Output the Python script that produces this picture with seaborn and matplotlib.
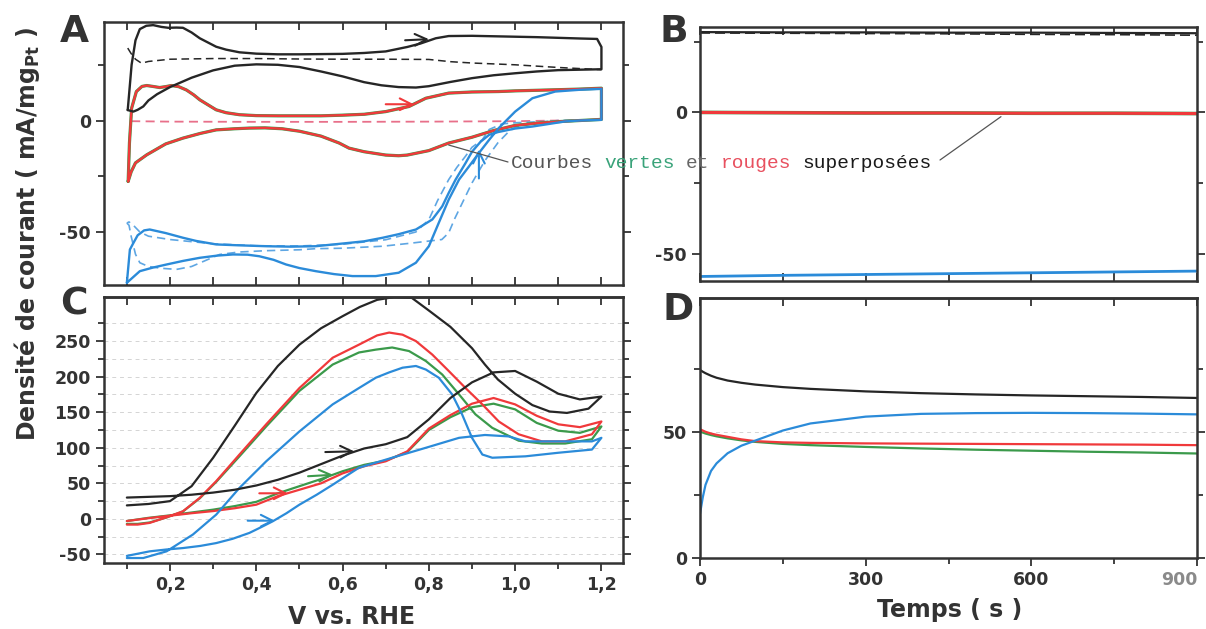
import matplotlib
matplotlib.use("Agg")
import matplotlib.pyplot as plt
import seaborn as sns
from matplotlib.patches import ConnectionPatch

# -------------------------------
# Data
# -------------------------------
# Panel A : CV under N2 (V vs RHE, mA/mg)
A_BLACK_FWD_V = [0.102, 0.111, 0.12, 0.13, 0.145, 0.161, 0.18, 0.196, 0.215, 0.23, 0.25, 0.269, 0.29, 0.307, 0.33,
                 0.361, 0.4, 0.45, 0.5, 0.55, 0.6, 0.65, 0.7, 0.75, 0.78, 0.816, 0.846, 0.9, 0.95, 1.0, 1.05, 1.1,
                 1.15, 1.19, 1.2]
A_BLACK_FWD_I = [4.7, 25, 36, 41, 42.5, 42.8, 42, 41.6, 41.7, 41.6, 39.5, 36.9, 34.8, 33.1, 31.8, 30.6, 30, 29.7,
                 29.7, 29.8, 29.9, 30.3, 31, 33, 34.5, 36.9, 37.9, 38, 37.8, 37.6, 37.4, 37.1, 36.8, 36.6, 33]
A_BLACK_REV_V = [1.2, 1.2, 1.15, 1.1, 1.05, 1.0, 0.95, 0.9, 0.85, 0.8, 0.77, 0.73, 0.69, 0.65, 0.6, 0.55, 0.5, 0.45,
                 0.4, 0.35, 0.3, 0.25, 0.2, 0.17, 0.15, 0.138, 0.125, 0.115, 0.102]
A_BLACK_REV_I = [33, 23, 22.8, 22.6, 22.0, 21.2, 20.3, 19.0, 17.3, 15.4, 14.8, 15.0, 15.8, 17.2, 19.8, 22.0, 24.0,
                 25.0, 25.2, 24.6, 22.5, 19.2, 15.0, 11.8, 9.0, 6.3, 4.8, 4.0, 4.7]
A_BLACK_DASH_V = [0.102, 0.11, 0.12, 0.134, 0.15, 0.2, 0.3, 0.4, 0.5, 0.6, 0.7, 0.8, 0.85, 0.9, 0.95, 1.0, 1.05,
                  1.1, 1.15, 1.2]
A_BLACK_DASH_I = [32.5, 30, 27.5, 25.7, 26.5, 27.5, 27.8, 27.8, 27.6, 27.5, 27.5, 27.4, 26.4, 25.8, 25.4, 25.0,
                  24.4, 23.8, 23.3, 22.8]

A_RED_FWD_V = [0.103, 0.106, 0.111, 0.122, 0.135, 0.146, 0.16, 0.176, 0.19, 0.203, 0.22, 0.238, 0.255, 0.269, 0.29,
               0.307, 0.33, 0.361, 0.4, 0.45, 0.5, 0.55, 0.6, 0.65, 0.7, 0.754, 0.793, 0.846, 0.9, 0.962, 1.0,
               1.077, 1.15, 1.2]
A_RED_FWD_I = [-27.3, -10, 5.5, 13, 15.3, 15.7, 15.3, 14.8, 15.2, 15.7, 15.2, 13.7, 11.5, 9.3, 6.8, 4.8, 3.5, 2.6,
               2.2, 2.1, 2.1, 2.1, 2.4, 2.8, 4.0, 6.3, 10, 12.3, 12.8, 13, 13.3, 13.7, 14.1, 14.5]
A_RED_REV_V = [1.2, 1.2, 1.15, 1.1, 1.05, 1.0, 0.95, 0.9, 0.846, 0.8, 0.75, 0.73, 0.7, 0.65, 0.615, 0.592, 0.55, 0.5,
               0.46, 0.42, 0.384, 0.35, 0.307, 0.27, 0.23, 0.19, 0.146, 0.12, 0.11, 0.103]
A_RED_REV_I = [14.5, 0.5, 0, -0.5, -1.2, -2.2, -4.5, -7.5, -10.1, -13.5, -15.5, -15.8, -15.5, -14.0, -12.4, -10.1,
               -7.0, -4.8, -3.7, -3.3, -3.4, -3.7, -4.2, -5.8, -7.9, -10.5, -15.4, -19, -23, -27.3]
A_RED_DASH_V = [0.11, 0.2, 0.4, 0.6, 0.8, 1.0, 1.1, 1.2]
A_RED_DASH_I = [-0.3, -0.5, -0.6, -0.6, -0.5, -0.3, 0, 0.3]

A_BLUE_FWD_V = [0.1, 0.13, 0.16, 0.192, 0.23, 0.269, 0.31, 0.346, 0.38, 0.407, 0.44, 0.469, 0.5, 0.538, 0.58, 0.623,
                0.677, 0.73, 0.77, 0.8, 0.823, 0.846, 0.87, 0.893, 0.916, 0.94, 0.962, 1.0, 1.04, 1.093, 1.15, 1.2]
A_BLUE_FWD_I = [-72.8, -67.6, -66, -64.6, -63, -61.6, -60.6, -60.1, -60.2, -60.9, -62.5, -64.6, -66.2, -67.6, -68.9,
                -69.8, -69.8, -68.3, -63.8, -56.4, -45.9, -35.5, -26.5, -20.6, -14.6, -8.6, -3.4, 4, 10, 13, 13.8,
                14.2]
A_BLUE_REV_V = [1.2, 1.2, 1.15, 1.116, 1.08, 1.04, 1.0, 0.985, 0.96, 0.94, 0.92, 0.9, 0.885, 0.862, 0.846, 0.831,
                0.808, 0.77, 0.73, 0.693, 0.65, 0.615, 0.538, 0.48, 0.423, 0.36, 0.307, 0.26, 0.23, 0.19, 0.153,
                0.14, 0.125, 0.115, 0.107, 0.1]
A_BLUE_REV_I = [14.2, 0.3, 0, -0.4, -1.5, -2.7, -3.6, -4.2, -5.2, -6.4, -9.5, -14, -19.1, -26.5, -32.5, -38.5,
                -44.4, -48.9, -51, -52.6, -54.2, -54.9, -56.4, -56.6, -56.4, -56, -55.6, -54, -52.6, -50.5, -48.9,
                -49.3, -51.5, -55, -57.9, -72.8]
A_BLUE_DASH1_V = [0.1, 0.105, 0.11, 0.12, 0.13, 0.15, 0.18, 0.215, 0.25, 0.28, 0.315, 0.36, 0.423, 0.5, 0.538, 0.6,
                  0.693, 0.76, 0.83, 0.846, 0.86, 0.88, 0.9, 0.93, 0.96, 0.985, 1.0, 1.05, 1.1, 1.15, 1.2]
A_BLUE_DASH1_I = [-46, -47, -52, -60, -63.8, -65.5, -66.3, -66.8, -65.5, -63, -60.1, -59, -58.4, -58, -57.5, -57.3,
                  -56.4, -55, -53.4, -50.4, -44, -36, -28, -18, -10, -5, -3, -1, 0, 0.2, 0.3]
A_BLUE_DASH2_V = [1.2, 1.1, 1.0, 0.97, 0.94, 0.924, 0.9, 0.885, 0.865, 0.846, 0.82, 0.8, 0.77, 0.7, 0.6, 0.5, 0.4,
                  0.3, 0.2, 0.15, 0.13, 0.115, 0.105, 0.1]
A_BLUE_DASH2_I = [0.3, -0.2, -1, -1.5, -4, -8.6, -12, -16, -21, -26.5, -36, -44.5, -50, -53.5, -55.5, -56.3, -56.2,
                  -55.3, -53.4, -51.9, -50, -47, -45.5, -46]

# Panel B : chronoamperometry (s, mA/mg)
B_T = [0, 150, 300, 450, 600, 750, 900]
B_BLACK = [28.4, 28.3, 28.3, 28.2, 28.2, 28.1, 28.0]
B_BLACK_DASH = [28.1, 28.0, 27.9, 27.8, 27.6, 27.5, 27.3]
B_GREEN = [0.0, -0.1, -0.2, -0.2, -0.3, -0.3, -0.4]
B_RED = [0.0, -0.1, -0.2, -0.2, -0.3, -0.3, -0.4]
B_BLUE = [-58.0, -57.6, -57.3, -57.0, -56.7, -56.4, -56.1]

# Panel C : methanol oxidation CV
C_V = [0.1, 0.15, 0.2, 0.25, 0.3, 0.35, 0.4, 0.45, 0.5, 0.55, 0.6, 0.65, 0.7, 0.75, 0.8, 0.85, 0.9, 0.95, 1.0, 1.05,
       1.1, 1.15, 1.2]
C_BLACK_FWD = [30, 31, 32, 34, 37, 41, 47, 55, 65, 77, 89, 99, 105, 115, 140, 170, 192, 206, 208, 193, 176, 168, 172]
C_RED_FWD = [-3, 1, 4.5, 8, 11, 15, 20, 32, 41, 50, 64, 74, 81, 95, 127, 146, 162, 170, 161, 145, 133, 129, 137]
C_GREEN_FWD = [-3, 1.5, 5, 9, 13, 18, 24, 36, 46, 56, 67, 76, 82, 94, 125, 143, 157, 162, 154, 135, 124, 121, 130]

C_BLACK_REV_V = [1.2, 1.17, 1.12, 1.08, 1.04, 1.0, 0.96, 0.93, 0.9, 0.85, 0.8, 0.76, 0.72, 0.68, 0.64, 0.6, 0.55,
                 0.5, 0.45, 0.4, 0.35, 0.3, 0.25, 0.2, 0.15, 0.1]
C_BLACK_REV = [172, 155, 149, 151, 160, 176, 196, 217, 240, 270, 293, 311, 312, 308, 298, 285, 268, 245, 215, 177,
               131, 86, 46, 25, 21, 19]
C_RED_REV_V = [1.2, 1.178, 1.116, 1.062, 1.008, 0.962, 0.924, 0.885, 0.846, 0.808, 0.77, 0.739, 0.708, 0.68, 0.638,
               0.577, 0.5, 0.423, 0.361, 0.307, 0.269, 0.23, 0.192, 0.153, 0.125, 0.1]
C_RED_REV = [137, 119, 109, 109, 119, 137, 161, 184, 208, 231, 250, 259, 262, 258, 245, 226.6, 184, 133, 90.5, 53,
             29.6, 10.7, 2.3, -5.6, -8, -8]
C_GREEN_REV_V = [1.2, 1.178, 1.116, 1.062, 1.008, 0.947, 0.908, 0.87, 0.831, 0.793, 0.754, 0.715, 0.677, 0.638,
                 0.577, 0.5, 0.423, 0.361, 0.307, 0.269, 0.23, 0.192, 0.153, 0.125, 0.1]
C_GREEN_REV = [130, 112, 106, 106, 110, 128, 147, 175, 203, 222, 236, 241, 238, 234, 217, 180, 130, 88, 52, 29,
               10.5, 2, -5, -7, -7]
C_BLUE_FWD_V = [0.1, 0.153, 0.192, 0.23, 0.27, 0.307, 0.345, 0.384, 0.41, 0.438, 0.47, 0.5, 0.54, 0.577, 0.638,
                0.715, 0.793, 0.87, 0.93, 0.985, 1.024, 1.1, 1.15, 1.178, 1.2]
C_BLUE_FWD = [-52, -45.6, -43, -41, -38, -34, -28, -19.7, -12, -3.4, 8, 20, 34, 48, 72, 86, 100, 114, 118, 116, 109,
              109, 109, 109, 114]
C_BLUE_REV_V = [1.2, 1.178, 1.1, 1.024, 0.947, 0.924, 0.9, 0.877, 0.854, 0.823, 0.793, 0.77, 0.739, 0.708, 0.677,
                0.638, 0.577, 0.5, 0.423, 0.361, 0.307, 0.253, 0.192, 0.138, 0.1]
C_BLUE_REV = [114, 97.5, 93, 88, 86, 90.5, 114, 147, 175, 198.5, 210, 215, 212.6, 206, 198.5, 184, 161, 123, 81,
              43.6, 6, -22, -45.6, -55, -55]

# Panel D : chronoamperometry in methanol
D_T = [0, 5, 10, 20, 30, 50, 75, 100, 150, 200, 300, 400, 500, 600, 700, 800, 900]
D_BLACK = [74.5, 73.8, 73.2, 72.2, 71.4, 70.3, 69.4, 68.7, 67.7, 67.0, 66.0, 65.3, 64.8, 64.4, 64.1, 63.8, 63.4]
D_BLUE = [17.5, 24, 29, 34.5, 37.5, 41.5, 44.5, 46.5, 50.5, 53.3, 56, 57.1, 57.4, 57.5, 57.4, 57.2, 56.9]
D_RED = [51, 50.5, 50, 49.3, 48.8, 48, 47, 46.3, 45.8, 45.6, 45.4, 45.3, 45.2, 45.1, 45, 44.9, 44.7]
D_GREEN = [50, 49.7, 49.3, 48.7, 48.2, 47.4, 46.6, 46, 45.2, 44.7, 44, 43.4, 42.9, 42.5, 42.1, 41.8, 41.4]

# scan direction arrows (tail, head)
A_ARROWS = {"black": ((0.745, 36.0), (0.80, 36.5)), "red": ((0.70, 7.3), (0.765, 7.3)),
            "blue": ((0.916, -26.0), (0.916, -13.0))}
C_ARROWS = {"black": ((0.56, 94), (0.627, 95)), "green": ((0.52, 60), (0.578, 62)),
            "red": ((0.407, 36), (0.473, 36)), "blue": ((0.38, -2.5), (0.443, -2.5))}

C_XTICK_LABELS = ["0,2", "0,4", "0,6", "0,8", "1,0", "1,2"]
D_XTICK_LABELS = ["0", "300", "600", "900"]
YLABEL = r"Densité de courant ( mA/mg$_{\mathbf{Pt}}$ )"
NOTE_WORDS = ["Courbes", "vertes", "et", "rouges", "superposées"]

# -------------------------------
# Style
# -------------------------------
sns.set_theme(style="white")
plt.rcParams["font.family"] = ["DejaVu Sans"]
plt.rcParams["font.weight"] = "bold"
plt.rcParams["axes.unicode_minus"] = False
plt.rcParams["mathtext.fontset"] = "custom"
plt.rcParams["mathtext.rm"] = "DejaVu Sans:bold"
plt.rcParams["mathtext.bf"] = "DejaVu Sans:bold"

BLACK = "#262626"
RED = "#f0393b"
GREEN = "#3b9a4b"
BLUE = "#2b8bd9"
BLUE_DASH = "#5ea6e3"
PINK_DASH = "#e8708a"
FRAME = "#333333"
COLORS = {"black": BLACK, "red": RED, "green": GREEN, "blue": BLUE}

W, H = 1206, 629
fig = plt.figure(figsize=(W / 100, H / 100), dpi=100)


def box(left, top, right, bottom):
    return fig.add_axes([left / W, 1 - bottom / H, (right - left) / W, (bottom - top) / H])


ax_a = box(104, 22, 623, 285)
ax_b = box(700, 27, 1197, 281)
ax_c = box(104, 297, 623, 563)
ax_d = box(700, 298, 1197, 558)


def trace(ax, x, y, color, ls="-", lw=1.6):
    sns.lineplot(x=x, y=y, ax=ax, sort=False, estimator=None, color=color, linestyle=ls, linewidth=lw)


def arrow(ax, tail, head, color):
    ax.annotate("", xy=head, xytext=tail,
                arrowprops=dict(arrowstyle="->,head_length=0.7,head_width=0.35", color=color, lw=1.5,
                                shrinkA=0, shrinkB=0))


def frame(ax):
    for s in ax.spines.values():
        s.set_linewidth(1.8)
        s.set_color(FRAME)
    ax.tick_params(which="both", color=FRAME, width=1.3, labelsize=12.5, labelcolor=FRAME)
    ax.tick_params(which="major", length=6)
    ax.tick_params(which="minor", length=4)
    ax.set_xlabel("")
    ax.set_ylabel("")


def top_ticks(ax, ticks):
    sec = ax.secondary_xaxis("top")
    sec.set_xticks(ticks)
    sec.tick_params(axis="x", direction="in", length=6, width=1.3, color=FRAME, labeltop=False)
    sec.spines["top"].set_linewidth(1.8)
    sec.spines["top"].set_color(FRAME)


# -------------------------------
# (A) CV in supporting electrolyte
# -------------------------------
trace(ax_a, A_BLACK_DASH_V, A_BLACK_DASH_I, BLACK, ls=(0, (5, 3)), lw=1.1)
trace(ax_a, A_RED_DASH_V, A_RED_DASH_I, PINK_DASH, ls=(0, (5, 3)), lw=1.3)
trace(ax_a, A_BLUE_DASH1_V, A_BLUE_DASH1_I, BLUE_DASH, ls=(0, (5, 3)), lw=1.2)
trace(ax_a, A_BLUE_DASH2_V, A_BLUE_DASH2_I, BLUE_DASH, ls=(0, (5, 3)), lw=1.2)
trace(ax_a, A_RED_FWD_V + A_RED_REV_V, A_RED_FWD_I + A_RED_REV_I, GREEN, lw=2.3)
trace(ax_a, A_RED_FWD_V + A_RED_REV_V, A_RED_FWD_I + A_RED_REV_I, RED, lw=1.7)
trace(ax_a, A_BLUE_FWD_V + A_BLUE_REV_V, A_BLUE_FWD_I + A_BLUE_REV_I, BLUE, lw=1.7)
trace(ax_a, A_BLACK_FWD_V + A_BLACK_REV_V, A_BLACK_FWD_I + A_BLACK_REV_I, BLACK, lw=1.7)
for name, (tail, head) in A_ARROWS.items():
    arrow(ax_a, tail, head, COLORS[name])

ax_a.set_xlim(0.047, 1.25)
ax_a.set_ylim(-73.8, 44.2)
ax_a.set_xticks([0.1 * k for k in range(1, 13)])
ax_a.set_yticks([-50, 0])
ax_a.set_yticks([-25, 25], minor=True)
frame(ax_a)
ax_a.tick_params(axis="x", direction="in", top=True, bottom=True, labelbottom=False)
ax_a.tick_params(axis="y", which="both", direction="out", left=True, right=True)

# -------------------------------
# (B) Chronoamperometry, supporting electrolyte
# -------------------------------
trace(ax_b, B_T, B_BLACK_DASH, BLACK, ls=(0, (6, 3)), lw=1.2)
trace(ax_b, B_T, B_BLACK, BLACK, lw=1.6)
trace(ax_b, B_T, B_GREEN, GREEN, lw=2.6)
trace(ax_b, B_T, B_RED, RED, lw=2.2)
trace(ax_b, B_T, B_BLUE, BLUE, lw=2.0)

ax_b.set_xlim(0, 900)
ax_b.set_ylim(-59.6, 30.2)
ax_b.set_xticks(range(0, 901, 150))
ax_b.set_yticks([-50, 0])
ax_b.set_yticks([-25, 25], minor=True)
frame(ax_b)
ax_b.tick_params(axis="x", direction="in", top=True, bottom=True, labelbottom=False)
ax_b.tick_params(axis="y", which="both", direction="out", left=True, right=True)

# -------------------------------
# (C) CV in methanol
# -------------------------------
ax_c.grid(axis="y", which="both", color="#d4d4d4", linestyle=(0, (4, 4)), linewidth=0.7)
trace(ax_c, C_V + C_GREEN_REV_V, C_GREEN_FWD + C_GREEN_REV, GREEN)
trace(ax_c, C_V + C_RED_REV_V, C_RED_FWD + C_RED_REV, RED)
trace(ax_c, C_BLUE_FWD_V + C_BLUE_REV_V, C_BLUE_FWD + C_BLUE_REV, BLUE)
trace(ax_c, C_V + C_BLACK_REV_V, C_BLACK_FWD + C_BLACK_REV, BLACK)
for name, (tail, head) in C_ARROWS.items():
    arrow(ax_c, tail, head, COLORS[name])

ax_c.set_xlim(0.047, 1.25)
ax_c.set_ylim(-62, 312)
ax_c.set_xticks([0.2, 0.4, 0.6, 0.8, 1.0, 1.2], C_XTICK_LABELS)
ax_c.set_xticks([0.1, 0.3, 0.5, 0.7, 0.9, 1.1], minor=True)
ax_c.set_yticks(range(-50, 251, 50))
ax_c.set_yticks(range(-25, 301, 50), minor=True)
frame(ax_c)
ax_c.tick_params(axis="x", which="both", direction="out", top=False, bottom=True)
ax_c.tick_params(axis="y", which="both", direction="out", left=True, right=True)
top_ticks(ax_c, [0.1 * k for k in range(1, 13)])

# -------------------------------
# (D) Chronoamperometry in methanol
# -------------------------------
ax_d.grid(axis="y", which="major", color="#d4d4d4", linestyle=(0, (4, 4)), linewidth=0.7)
trace(ax_d, D_T, D_GREEN, GREEN)
trace(ax_d, D_T, D_RED, RED)
trace(ax_d, D_T, D_BLUE, BLUE)
trace(ax_d, D_T, D_BLACK, BLACK)

ax_d.set_xlim(0, 900)
ax_d.set_ylim(0, 103)
ax_d.set_xticks([0, 300, 600, 900], D_XTICK_LABELS)
ax_d.set_xticks([150, 450, 750], minor=True)
ax_d.set_yticks([0, 50])
ax_d.set_yticks([25, 75], minor=True)
frame(ax_d)
ax_d.tick_params(axis="x", which="both", direction="out", top=False, bottom=True)
ax_d.tick_params(axis="y", which="both", direction="out", left=True, right=True)
last = ax_d.get_xticklabels()[-1]
last.set_color("#8a8a8a")
last.set_horizontalalignment("right")
top_ticks(ax_d, range(0, 901, 150))

# -------------------------------
# Labels and annotation
# -------------------------------
for letter, (px, py) in zip("ABCD", [(60, 14), (660, 14), (60, 286), (662, 292)]):
    fig.text(px / W, 1 - py / H, letter, fontsize=27, color=FRAME, ha="left", va="top")

fig.text(27 / W, 1 - 234 / H, YLABEL, rotation=90, fontsize=17, color=FRAME, ha="center", va="center")
fig.text(352 / W, 1 - 617 / H, "V vs. RHE", fontsize=17, color=FRAME, ha="center", va="center")
fig.text(950 / W, 1 - 610 / H, "Temps ( s )", fontsize=17, color=FRAME, ha="center", va="center")

note_colors = ["#555555", "#3aa37a", "#666666", "#e8505f", "#1a1a1a"]
char_px = 0.6 * 14 * 100 / 72
col = 0
for word, c in zip(NOTE_WORDS, note_colors):
    fig.text((511 + col * char_px) / W, 1 - 163 / H, word, family="Liberation Mono", fontsize=14,
             weight="normal", color=c, ha="left", va="center")
    col += len(word) + 1

fig.add_artist(ConnectionPatch(xyA=(0.846, -11), coordsA=ax_a.transData, xyB=(508 / W, 1 - 162 / H),
                               coordsB=fig.transFigure, color="#555555", lw=0.9))
fig.add_artist(ConnectionPatch(xyA=(940 / W, 1 - 160 / H), coordsA=fig.transFigure, xyB=(545, -1.5),
                               coordsB=ax_b.transData, color="#555555", lw=0.9))

fig.savefig("out.png", dpi=100)
